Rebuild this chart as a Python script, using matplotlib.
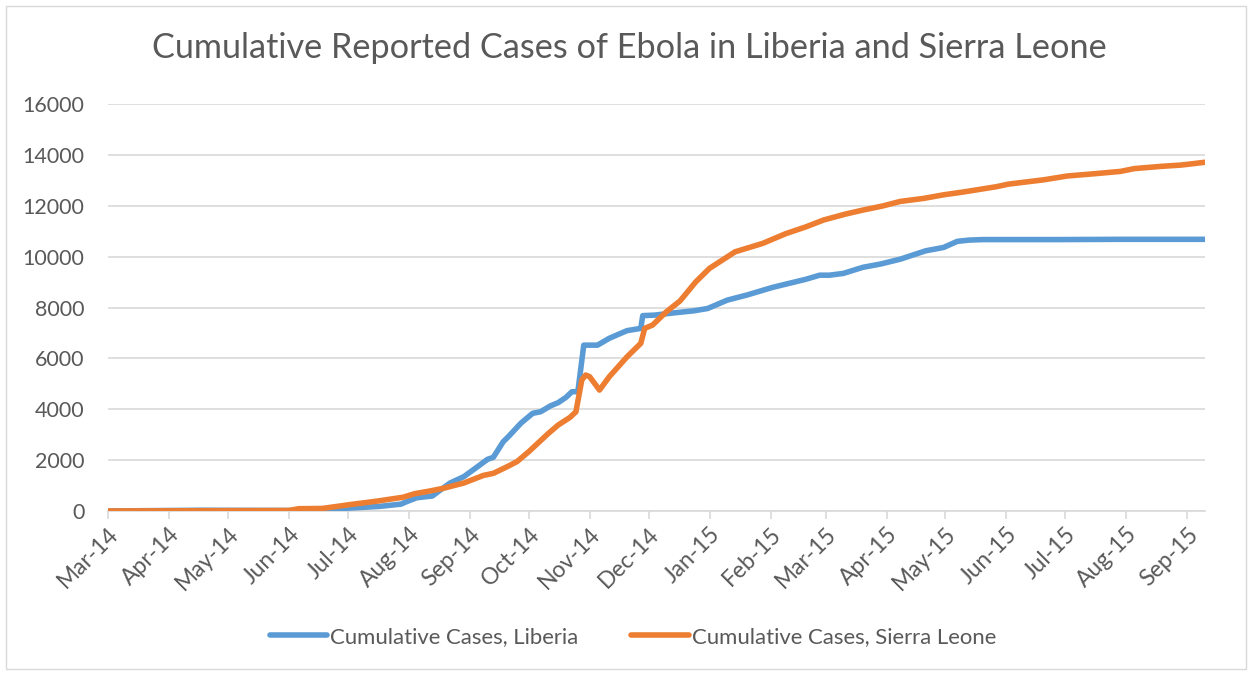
import matplotlib
matplotlib.use("Agg")
import matplotlib.pyplot as plt
import matplotlib.dates as mdates
import pandas as pd
from matplotlib.patches import Rectangle

plt.rcParams['font.family'] = ['Lato', 'DejaVu Sans']

liberia_dates = [
    "2014-03-01", "2014-04-17", "2014-06-02", "2014-06-17", "2014-07-01", "2014-07-17",
    "2014-07-28", "2014-07-31", "2014-08-05", "2014-08-13", "2014-08-17", "2014-08-22",
    "2014-08-29", "2014-09-06", "2014-09-10", "2014-09-13", "2014-09-18", "2014-09-21",
    "2014-09-27", "2014-10-03", "2014-10-07", "2014-10-12", "2014-10-16", "2014-10-20",
    "2014-10-23", "2014-10-26", "2014-10-29", "2014-11-05", "2014-11-11", "2014-11-20",
    "2014-11-27", "2014-11-28", "2014-12-04", "2014-12-14", "2014-12-24", "2014-12-31",
    "2015-01-10", "2015-01-20", "2015-02-02", "2015-02-19", "2015-02-26", "2015-03-03",
    "2015-03-10", "2015-03-20", "2015-03-29", "2015-04-08", "2015-04-21", "2015-04-30",
    "2015-05-07", "2015-05-13", "2015-05-20", "2015-06-28", "2015-07-29", "2015-09-10",
]
liberia_cases = [
    0, 30, 20, 40, 110, 180,
    270, 370, 520, 590, 820, 1100,
    1350, 1800, 2030, 2110, 2720, 2950,
    3450, 3840, 3900, 4130, 4260, 4470,
    4690, 4690, 6520, 6520, 6790, 7090,
    7180, 7680, 7700, 7790, 7870, 7960,
    8290, 8490, 8790, 9110, 9270, 9270,
    9340, 9580, 9710, 9900, 10230, 10360,
    10600, 10650, 10670, 10670, 10680, 10680,
]

sierra_dates = [
    "2014-03-01", "2014-04-17", "2014-06-01", "2014-06-06", "2014-06-18", "2014-07-02",
    "2014-07-16", "2014-07-29", "2014-08-04", "2014-08-12", "2014-08-19", "2014-08-29",
    "2014-09-08", "2014-09-13", "2014-09-20", "2014-09-25", "2014-10-01", "2014-10-06",
    "2014-10-11", "2014-10-16", "2014-10-22", "2014-10-25", "2014-10-28", "2014-10-30",
    "2014-11-01", "2014-11-06", "2014-11-11", "2014-11-20", "2014-11-27", "2014-11-29",
    "2014-12-03", "2014-12-10", "2014-12-17", "2014-12-25", "2015-01-01", "2015-01-14",
    "2015-01-28", "2015-02-09", "2015-02-19", "2015-02-28", "2015-03-11", "2015-03-20",
    "2015-03-30", "2015-04-08", "2015-04-20", "2015-04-30", "2015-05-10", "2015-05-27",
    "2015-06-02", "2015-06-20", "2015-07-02", "2015-07-16", "2015-07-29", "2015-08-05",
    "2015-08-19", "2015-08-29", "2015-09-10",
]
sierra_cases = [
    0, 10, 20, 90, 100, 250,
    390, 540, 680, 790, 900, 1100,
    1400, 1480, 1740, 1940, 2330, 2690,
    3050, 3380, 3680, 3900, 5150, 5345,
    5280, 4755, 5280, 6060, 6590, 7180,
    7310, 7830, 8260, 9010, 9540, 10190,
    10520, 10910, 11170, 11440, 11670, 11830,
    11990, 12170, 12290, 12430, 12540, 12750,
    12850, 13020, 13170, 13260, 13350, 13460,
    13550, 13600, 13710,
]

series_labels = ["Cumulative Cases, Liberia", "Cumulative Cases, Sierra Leone"]
title_text = "Cumulative Reported Cases of Ebola in Liberia and Sierra Leone"
y_ticks = [0, 2000, 4000, 6000, 8000, 10000, 12000, 14000, 16000]

W, H = 1252, 674
fig = plt.figure(figsize=(W / 100, H / 100), dpi=100)
fig.patch.set_facecolor("white")

# chart-area border
fig.add_artist(Rectangle((6 / W, 5 / H), (1246 - 6) / W, (668 - 5) / H,
                         transform=fig.transFigure, fill=False,
                         edgecolor="#D9D9D9", linewidth=1.0))

ax = fig.add_axes([108 / W, 1 - 511 / H, (1205 - 108) / W, (511 - 104) / H])

blue = "#5B9BD5"
orange = "#ED7D31"
text_grey = "#595959"

ld = pd.to_datetime(liberia_dates)
sd = pd.to_datetime(sierra_dates)
ax.plot(ld, liberia_cases, color=blue, linewidth=4.0, solid_capstyle="round",
        solid_joinstyle="round", label=series_labels[0], zorder=3)
ax.plot(sd, sierra_cases, color=orange, linewidth=4.0, solid_capstyle="round",
        solid_joinstyle="round", label=series_labels[1], zorder=3)

ax.set_xlim(pd.Timestamp("2014-03-01"), pd.Timestamp("2015-09-10"))
ax.set_ylim(0, 16000)
ax.set_yticks(y_ticks)
ax.yaxis.grid(True, color="#D9D9D9", linewidth=1.2)
ax.set_axisbelow(True)

ax.xaxis.set_major_locator(mdates.MonthLocator())
ax.xaxis.set_major_formatter(mdates.DateFormatter("%b-%y"))

for s in ["top", "right", "left"]:
    ax.spines[s].set_visible(False)
ax.spines["bottom"].set_color("#D9D9D9")
ax.spines["bottom"].set_linewidth(1.2)

ax.tick_params(axis="y", length=0, pad=17, labelsize=15.5, labelcolor=text_grey)
ax.tick_params(axis="x", length=6, width=1.2, color="#D9D9D9", direction="out",
               labelsize=16.5, labelcolor=text_grey, pad=3)
for lab in ax.get_xticklabels():
    lab.set_rotation(45)
    lab.set_ha("right")
    lab.set_va("top")
    lab.set_rotation_mode("anchor")

fig.text(629 / W, 1 - 48 / H, title_text, ha="center", va="center",
         fontsize=24.7, color=text_grey)

leg = fig.legend(loc="center", bbox_to_anchor=(633 / W, 1 - 637 / H), ncol=2,
                 frameon=False, fontsize=15.9, handlelength=2.6, handletextpad=0.13,
                 columnspacing=2.4, labelcolor=text_grey)

fig.savefig("out.png", dpi=100, facecolor="white")
